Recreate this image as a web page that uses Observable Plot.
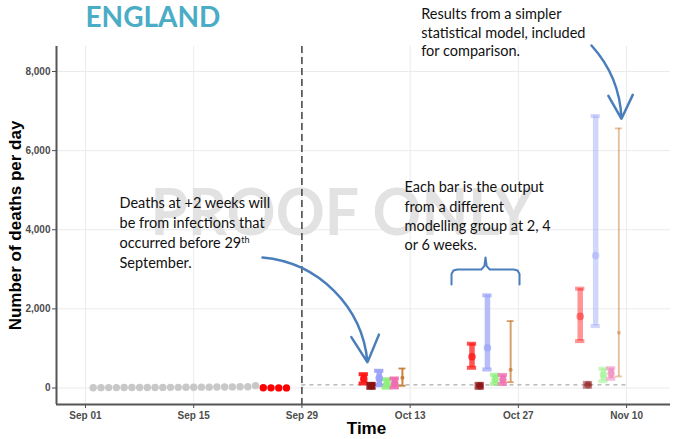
<!DOCTYPE html>
<html>
<head>
<meta charset="utf-8">
<script src="https://cdn.jsdelivr.net/npm/d3@7"></script>
<script src="https://cdn.jsdelivr.net/npm/@observablehq/plot@0.6"></script>
<style>
  body { margin: 0; background: #fff; }
  #chart { width: 676px; height: 439px; }
</style>
</head>
<body>
<div id="chart"></div>
<script>
// ---------- data ----------
const chartTitle = "ENGLAND";
const completeStart = "2020-09-02";
const completeDeaths = [8, 9, 10, 10, 11, 12, 12, 13, 14, 15, 16, 17, 18, 20, 21, 22, 24, 26, 28, 30, 33, 60];
const incompleteStart = "2020-09-24";
const incompleteDeaths = [6, 4, 3, 2];
const nowDate = "2020-09-29";
const baselineLevel = 80;
const baselineEnd = "2020-11-10";

const modelNames = ["Model A", "Model B", "Model C", "Model D", "Model E", "Statistical model"];
const horizonLabels = ["+2 weeks", "+4 weeks", "+6 weeks"];
const horizonFirstDates = ["2020-10-07", "2020-10-21", "2020-11-04"];

const low2wk  = [114, 5, 70, 10, 15, 56];
const mid2wk  = [230, 55, 250, 110, 120, 260];
const high2wk = [349, 105, 435, 220, 240, 493];
const low4wk  = [511, 5, 468, 106, 100, 147];
const mid4wk  = [790, 55, 1018, 220, 215, 461];
const high4wk = [1119, 105, 2342, 334, 330, 1691];
const low6wk  = [1185, 30, 1565, 172, 233, 291];
const mid6wk  = [1810, 80, 3347, 330, 370, 1397];
const high6wk = [2511, 130, 6873, 486, 501, 6562];

const yTicks = [0, 2000, 4000, 6000, 8000];
const xTicks = ["2020-09-01", "2020-09-15", "2020-09-29", "2020-10-13", "2020-10-27", "2020-11-10"];

const note1 = "Deaths at +2 weeks will\nbe from infections that\noccurred before 29th\nSeptember.";
const note2 = "Each bar is the output\nfrom a different\nmodelling group at 2, 4\nor 6 weeks.";
const note3 = "Results from a simpler\nstatistical model, included\nfor comparison.";
const watermark = "PROOF ONLY";

// ---------- styles ----------
const modelColors = ["#ff1414", "#8b1010", "#9aa3f7", "#8ff07e", "#f06cb0", "#c77a30"];
const horizonOpacity = [0.92, 0.72, 0.45];
const annotBlue = "#4a7ebb";

// ---------- build tables ----------
const DAY = 864e5;
const d0 = s => new Date(s);
const addDays = (s, n) => new Date(+new Date(s) + n * DAY);

const observed = [
  ...completeDeaths.map((v, i) => ({date: addDays(completeStart, i), value: v, kind: "complete"})),
  ...incompleteDeaths.map((v, i) => ({date: addDays(incompleteStart, i), value: v, kind: "incomplete"}))
];

const lows = [low2wk, low4wk, low6wk], mids = [mid2wk, mid4wk, mid6wk], highs = [high2wk, high4wk, high6wk];
const forecasts = [];
horizonLabels.forEach((h, hi) => {
  modelNames.forEach((m, mi) => {
    forecasts.push({
      horizon: h, model: m,
      date: addDays(horizonFirstDates[hi], mi),
      lo: lows[hi][mi], mid: mids[hi][mi], hi: highs[hi][mi],
      op: horizonOpacity[hi],
      stat: m === "Statistical model"
    });
  });
});
const groupBars = forecasts.filter(d => !d.stat);
const statBars = forecasts.filter(d => d.stat);

const xDomain = [new Date("2020-08-28T06:00Z"), new Date("2020-11-15T16:20Z")];
const yDomain = [-417, 8632];

const annotations = [
  {date: new Date("2020-09-05T09:40Z"), value: 4909, text: note1, lh: 1.38},
  {date: new Date("2020-10-12T06:30Z"), value: 5288, text: note2, lh: 1.32},
  {date: new Date("2020-10-14T10:20Z"), value: 9650, text: note3, lh: 1.27}
];
const arrows = [
  {x1: new Date("2020-09-23T21:30Z"), y1: 3299, x2: new Date("2020-10-07T11:30Z"), y2: 648, bend: 40},
  {x1: new Date("2020-11-05T11:00Z"), y1: 8658, x2: new Date("2020-11-09T08:10Z"), y2: 6805, bend: 20}
];
const braceDays = [47.35, 47.35, 47.6, 48.1, 51.2, 51.6, 51.75, 51.9, 52.3, 55.4, 55.9, 56.15, 56.15];
const braceValues = [2616, 2880, 2970, 2995, 2995, 3080, 3299, 3080, 2995, 2995, 2970, 2880, 2616];
const brace = braceDays.map((d, i) => ({date: addDays("2020-09-01", d), value: braceValues[i]}));

const half = days => d => new Date(+d.date + days * DAY);

const plot = Plot.plot({
  width: 676,
  height: 439,
  marginLeft: 56,
  marginRight: 6,
  marginTop: 46,
  marginBottom: 35,
  style: {fontFamily: "'Liberation Sans', Arial, sans-serif", background: "#fff", overflow: "visible"},
  x: {type: "utc", domain: xDomain},
  y: {domain: yDomain},
  color: {domain: modelNames, range: modelColors},
  opacity: {type: "identity"},
  marks: [
    Plot.ruleY(yTicks, {stroke: "#ebebeb", strokeWidth: 1}),
    Plot.ruleX(xTicks.map(d0), {stroke: "#ebebeb", strokeWidth: 1}),
    Plot.text([watermark], {x: () => new Date("2020-10-04T04:20Z"), y: () => 4398, text: d => d,
      fontFamily: "Lato", fontWeight: "bold", fontSize: 65, fill: "#e2e2e2", lineAnchor: "middle"}),
    Plot.ruleX([d0(nowDate)], {stroke: "#000", strokeWidth: 1.1, strokeDasharray: "7,4"}),
    Plot.ruleY([baselineLevel], {x1: d0(nowDate), x2: d0(baselineEnd), stroke: "#aaaaaa", strokeWidth: 1.2, strokeDasharray: "4,4"}),
    Plot.dot(observed, {x: "date", y: "value", r: 3.7, fill: d => d.kind === "complete" ? "#c8c8c8" : "#ff0000", stroke: "none"}),
    // model bars
    Plot.ruleX(groupBars, {x: "date", y1: "lo", y2: "hi", stroke: "model", strokeOpacity: "op", strokeWidth: 5.5}),
    Plot.ruleY(groupBars, {y: "lo", x1: half(-0.6), x2: half(0.6), stroke: "model", strokeOpacity: "op", strokeWidth: 4}),
    Plot.ruleY(groupBars, {y: "hi", x1: half(-0.6), x2: half(0.6), stroke: "model", strokeOpacity: "op", strokeWidth: 4}),
    Plot.dot(groupBars, {x: "date", y: "mid", r: 3.8, fill: "model", fillOpacity: "op", stroke: "none"}),
    // statistical model
    Plot.ruleX(statBars, {x: "date", y1: "lo", y2: "hi", stroke: "model", strokeOpacity: "op", strokeWidth: 2}),
    Plot.ruleY(statBars, {y: "lo", x1: half(-0.45), x2: half(0.45), stroke: "model", strokeOpacity: "op", strokeWidth: 1.8}),
    Plot.ruleY(statBars, {y: "hi", x1: half(-0.45), x2: half(0.45), stroke: "model", strokeOpacity: "op", strokeWidth: 1.8}),
    Plot.dot(statBars, {x: "date", y: "mid", r: 2, fill: "model", fillOpacity: "op", stroke: "none"}),
    // axes
    Plot.axisY({ticks: yTicks, tickFormat: d3.format(","), tickSize: 4, tickPadding: 2, fontSize: 10, fontWeight: "bold", color: "#4d4d4d", label: null}),
    Plot.axisX({ticks: xTicks.map(d0), tickFormat: d3.utcFormat("%b %d"), tickSize: 4, tickPadding: 3, fontSize: 10, fontWeight: "bold", color: "#4d4d4d", label: null}),
    Plot.ruleX([xDomain[0]], {stroke: "#555", strokeWidth: 2}),
    Plot.ruleY([yDomain[0]], {stroke: "#555", strokeWidth: 2}),
    // axis titles
    Plot.text(["Number of deaths per day"], {frameAnchor: "left", dx: -41, rotate: -90, text: d => d, textAnchor: "middle",
      fontSize: 17, fontWeight: "bold", fill: "#000", lineAnchor: "middle"}),
    Plot.text(["Time"], {frameAnchor: "bottom", dx: 3, dy: 24, text: d => d, textAnchor: "middle",
      fontSize: 17, fontWeight: "bold", fill: "#000", lineAnchor: "middle"}),
    // title
    Plot.text([chartTitle], {frameAnchor: "top-left", dx: 29, dy: -39, text: d => d, textAnchor: "start",
      lineAnchor: "top", fontFamily: "Lato", fontWeight: "bold", fontSize: 28, fill: "#4bacc6"}),
    // annotations
    ...annotations.map(a => Plot.text([a], {x: "date", y: "value", text: "text", textAnchor: "start", lineAnchor: "top",
      lineHeight: a.lh, fontFamily: "Lato", fontSize: 14.5, fill: "#111"})),
    Plot.line(brace, {x: "date", y: "value", stroke: annotBlue, strokeWidth: 2}),
    ...arrows.map(a => Plot.arrow([a], {x1: "x1", y1: "y1", x2: "x2", y2: "y2", bend: a.bend,
      stroke: annotBlue, strokeWidth: 2.5, headLength: 18, headAngle: 55}))
  ]
});

document.getElementById("chart").appendChild(plot);

// superscript "th" and watermark width
d3.select(plot).selectAll("tspan").each(function() {
  if (this.textContent === "occurred before 29th") {
    this.textContent = "occurred before 29";
    d3.select(this).append("tspan").text("th").attr("font-size", "0.62em").attr("baseline-shift", "super");
  }
});
d3.select(plot).selectAll("text").filter(function() { return this.textContent === watermark; })
  .attr("textLength", 383).attr("lengthAdjust", "spacingAndGlyphs");
</script>
</body>
</html>
